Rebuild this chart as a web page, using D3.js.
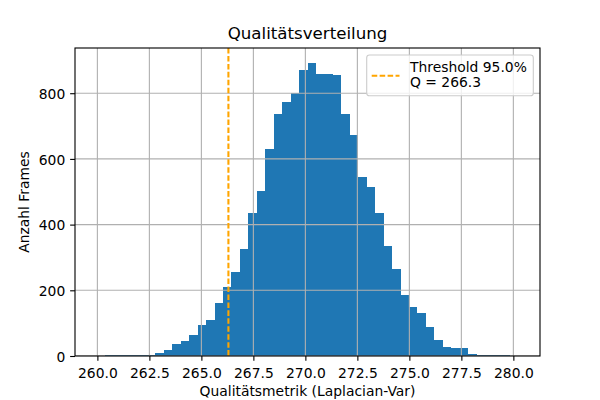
<!DOCTYPE html>
<html><head><meta charset="utf-8">
<script src="https://cdn.jsdelivr.net/npm/d3@7"></script>
<style>body{margin:0;background:#fff} svg{display:block}</style>
</head><body>
<svg id="c" width="600" height="400"></svg>
<script>
// ---------- data ----------
const binEdges = [259.940,260.347,260.753,261.160,261.566,261.973,262.379,262.786,263.192,263.599,
  264.005,264.412,264.818,265.225,265.631,266.038,266.444,266.851,267.257,267.664,
  268.070,268.477,268.883,269.290,269.696,270.103,270.509,270.916,271.322,271.729,
  272.135,272.542,272.948,273.355,273.761,274.168,274.574,274.981,275.387,275.794,
  276.200,276.607,277.013,277.420,277.826,278.233,278.639,279.046,279.452,279.859,280.265];
const counts = [1,2,2,3,2,3,3,9,18,37,
  46,64,95,110,162,210,256,326,436,503,
  631,738,774,802,872,893,860,860,854,738,
  674,546,513,434,335,265,186,150,131,89,
  49,28,25,25,7,3,3,3,3,1];
const xTicks = [260.0,262.5,265.0,267.5,270.0,272.5,275.0,277.5,280.0];
const yTicks = [0,200,400,600,800];
const thresholdValue = 266.3;
const thresholdPct = 95.0;
const titleText = "Qualitätsverteilung";
const xLabelText = "Qualitätsmetrik (Laplacian-Var)";
const yLabelText = "Anzahl Frames";
const legendLines = ["Threshold " + thresholdPct.toFixed(1) + "%", "Q = " + thresholdValue.toFixed(1)];

// ---------- layout ----------
const W = 600, H = 400;
const L = 75, R = 540, T = 48, B = 356;
const FONT = "'DejaVu Sans', sans-serif";
const svg = d3.select("#c");

const lo = binEdges[0], hi = binEdges[binEdges.length-1], span = hi - lo;
const x = d3.scaleLinear().domain([lo - 0.05*span, hi + 0.05*span]).range([L, R]);
const y = d3.scaleLinear().domain([0, d3.max(counts)*1.05]).range([B, T]);

svg.append("defs").append("clipPath").attr("id","clip")
  .append("rect").attr("x",L).attr("y",T).attr("width",R-L).attr("height",B-T);

// bars
svg.append("g").attr("clip-path","url(#clip)")
  .selectAll("rect").data(counts).join("rect")
  .attr("x",(d,i)=>x(binEdges[i]))
  .attr("width",(d,i)=>x(binEdges[i+1])-x(binEdges[i]))
  .attr("y",d=>y(d))
  .attr("height",d=>B-y(d))
  .attr("fill","#1f77b4")
  .attr("shape-rendering","crispEdges");

// grid (above bars, like matplotlib)
const grid = svg.append("g").attr("clip-path","url(#clip)");
grid.selectAll("line.vx").data(xTicks).join("line")
  .attr("x1",d=>x(d)).attr("x2",d=>x(d)).attr("y1",T).attr("y2",B)
  .attr("stroke","#b0b0b0").attr("stroke-width",1.11);
grid.selectAll("line.hy").data(yTicks).join("line")
  .attr("x1",L).attr("x2",R).attr("y1",d=>y(d)).attr("y2",d=>y(d))
  .attr("stroke","#b0b0b0").attr("stroke-width",1.11);

// threshold line
svg.append("line")
  .attr("x1",x(thresholdValue)).attr("x2",x(thresholdValue))
  .attr("y1",T).attr("y2",B)
  .attr("stroke","#ffa500").attr("stroke-width",2.08)
  .attr("stroke-dasharray","5.55,2.4");

// axes
const xAxis = d3.axisBottom(x).tickValues(xTicks).tickFormat(d3.format(".1f"))
  .tickSize(4.86).tickPadding(4.86).tickSizeOuter(0);
const gx = svg.append("g").attr("transform",`translate(0,${B})`).call(xAxis);
gx.select(".domain").remove();
gx.selectAll("line").attr("stroke","#000").attr("stroke-width",1.11);
gx.selectAll("text").attr("font-family",FONT).attr("font-size","13.89px")
  .attr("fill","#000").attr("dy","0.85em");

const yAxis = d3.axisLeft(y).tickValues(yTicks).tickFormat(d3.format("d"))
  .tickSize(4.86).tickPadding(4.86).tickSizeOuter(0);
const gy = svg.append("g").attr("transform",`translate(${L},0)`).call(yAxis);
gy.select(".domain").remove();
gy.selectAll("line").attr("stroke","#000").attr("stroke-width",1.11);
gy.selectAll("text").attr("font-family",FONT).attr("font-size","13.89px")
  .attr("fill","#000").attr("dy","0.38em");

// spines
svg.append("rect").attr("x",L).attr("y",T).attr("width",R-L).attr("height",B-T)
  .attr("fill","none").attr("stroke","#000").attr("stroke-width",1.11);

// title & labels
svg.append("text").attr("x",(L+R)/2).attr("y",39.4).attr("text-anchor","middle")
  .attr("font-family",FONT).attr("font-size","16.67px").attr("fill","#000").text(titleText);
svg.append("text").attr("x",(L+R)/2).attr("y",396.3).attr("text-anchor","middle")
  .attr("font-family",FONT).attr("font-size","13.89px").attr("fill","#000").text(xLabelText);
svg.append("text").attr("transform",`translate(29.4,${(T+B)/2}) rotate(-90)`)
  .attr("text-anchor","middle")
  .attr("font-family",FONT).attr("font-size","13.89px").attr("fill","#000").text(yLabelText);

// legend
const lg = svg.append("g");
lg.append("rect").attr("x",366.7).attr("y",55).attr("width",166.6).attr("height",40.7)
  .attr("rx",2.8).attr("ry",2.8)
  .attr("fill","#fff").attr("fill-opacity",0.8)
  .attr("stroke","#cccccc").attr("stroke-width",1.11);
lg.append("line").attr("x1",371.7).attr("x2",399.5).attr("y1",75.7).attr("y2",75.7)
  .attr("stroke","#ffa500").attr("stroke-width",2.08).attr("stroke-dasharray","5.55,2.4");
lg.selectAll("text.l").data(legendLines).join("text")
  .attr("x",410).attr("y",(d,i)=>71.8 + i*15.2)
  .attr("font-family",FONT).attr("font-size","13.89px").attr("fill","#000")
  .text(d=>d);
</script>
</body></html>
